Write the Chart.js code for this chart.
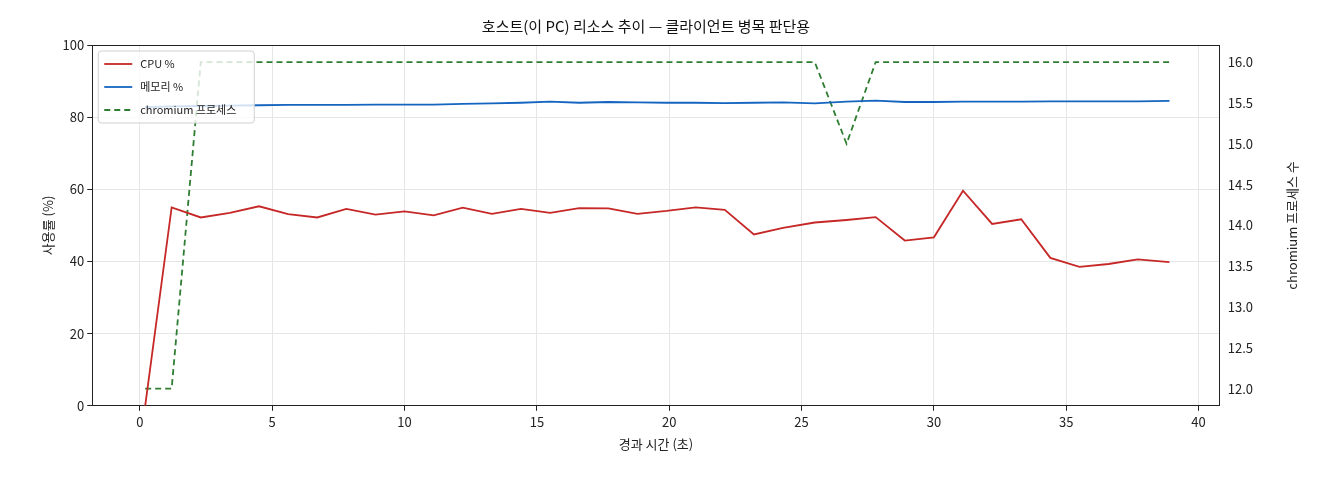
<!DOCTYPE html>
<html><head><meta charset="utf-8">
<script src="https://cdn.jsdelivr.net/npm/chart.js@4"></script>
<style>html,body{margin:0;background:#fff}#w{width:1320px;height:480px}</style>
</head><body><div id="w"><canvas id="c"></canvas></div>
<script>
const times=[0.2,1.2,2.3,3.4,4.5,5.6,6.7,7.8,8.9,10.0,11.1,12.2,13.3,14.4,15.5,16.6,17.7,18.8,19.9,21.0,22.1,23.2,24.3,25.5,26.7,27.8,28.9,30.0,31.1,32.2,33.3,34.4,35.5,36.6,37.7,38.9];
const cpu=[0,55,52.2,53.5,55.3,53.1,52.2,54.6,53,53.9,52.8,54.9,53.2,54.6,53.5,54.8,54.7,53.2,54,55,54.3,47.5,49.3,50.8,51.5,52.3,45.8,46.7,59.6,50.4,51.7,41,38.5,39.3,40.6,39.8];
const mem=[82.8,83,83.1,83.2,83.3,83.4,83.4,83.4,83.5,83.5,83.5,83.7,83.8,84,84.3,84,84.2,84.1,84,84,83.9,84,84.1,83.8,84.3,84.6,84.2,84.2,84.3,84.3,84.3,84.4,84.4,84.4,84.4,84.5];
const procs=[12,12,16,16,16,16,16,16,16,16,16,16,16,16,16,16,16,16,16,16,16,16,16,16,15,16,16,16,16,16,16,16,16,16,16,16];
const F='"Noto Sans CJK KR", sans-serif';
const xy=a=>a.map((v,i)=>({x:times[i],y:v}));
const legendBox={id:'lb',afterDraw(ch){const c=ch.ctx,a=ch.chartArea;const x=a.left+6,y=a.top+6;
c.save();c.fillStyle='rgba(255,255,255,0.8)';c.strokeStyle='#d0d0d0';c.lineWidth=1;
c.beginPath();c.roundRect(x,y,156,72,3);c.fill();c.stroke();
c.font='11px '+F;c.textBaseline='middle';
ch.data.datasets.forEach((d,i)=>{const yy=y+13+i*23;c.strokeStyle=d.borderColor;c.lineWidth=1.8;c.setLineDash(d.borderDash||[]);
c.beginPath();c.moveTo(x+6,yy);c.lineTo(x+34,yy);c.stroke();c.setLineDash([]);c.fillStyle='#222';c.fillText(d.label,x+42,yy);});
c.restore();}};
const rTitle={id:'rt',afterDraw(ch){const c=ch.ctx,a=ch.chartArea;c.save();c.font='13px '+F;c.fillStyle='#222';c.textAlign='center';c.textBaseline='middle';
c.translate(1292,(a.top+a.bottom)/2);c.rotate(-Math.PI/2);c.fillText('chromium 프로세스 수',0,0);c.restore();}};
new Chart(document.getElementById('c'),{type:'line',
data:{datasets:[
{label:'CPU %',data:xy(cpu),borderColor:'#c62828',borderWidth:1.8,pointRadius:0,yAxisID:'y'},
{label:'메모리 %',data:xy(mem),borderColor:'#1565c0',borderWidth:1.8,pointRadius:0,yAxisID:'y'},
{label:'chromium 프로세스',data:xy(procs),borderColor:'#2e7d32',borderWidth:1.8,borderDash:[6,4],pointRadius:0,yAxisID:'y1'}]},
options:{responsive:true,maintainAspectRatio:false,animation:false,
layout:{padding:{left:36,right:64,top:7,bottom:24}},
plugins:{legend:{display:false},tooltip:{enabled:false},
title:{display:true,text:'호스트(이 PC) 리소스 추이 — 클라이언트 병목 판단용',color:'#111',font:{family:F,size:15,weight:'normal'},padding:{top:10,bottom:10}}},
scales:{
x:{type:'linear',min:-1.8,max:40.8,afterBuildTicks:s=>{s.ticks=[0,5,10,15,20,25,30,35,40].map(v=>({value:v}))},
ticks:{color:'#222',font:{family:F,size:13}},grid:{color:'#e6e6e6',tickColor:'#222',tickLength:5},border:{color:'#222'},
title:{display:true,text:'경과 시간 (초)',color:'#222',font:{family:F,size:13}}},
y:{position:'left',min:0,max:100,ticks:{stepSize:20,color:'#222',font:{family:F,size:13}},grid:{color:'#e6e6e6',tickColor:'#222',tickLength:5},border:{color:'#222'},
title:{display:true,text:'사용률 (%)',color:'#222',font:{family:F,size:13}}},
y1:{position:'right',min:11.79,max:16.21,afterBuildTicks:s=>{s.ticks=[12,12.5,13,13.5,14,14.5,15,15.5,16].map(v=>({value:v}))},
ticks:{color:'#222',font:{family:F,size:13},callback:v=>v.toFixed(1)},grid:{display:false,tickColor:'#222',tickLength:5},border:{color:'#222'}}}},
plugins:[legendBox,rTitle,{id:'top',afterDraw(ch){const c=ch.ctx,a=ch.chartArea;c.save();c.strokeStyle='#222';c.lineWidth=1;c.beginPath();c.moveTo(a.left,a.top+0.5);c.lineTo(a.right,a.top+0.5);c.stroke();c.restore();}}]});
</script></body></html>
